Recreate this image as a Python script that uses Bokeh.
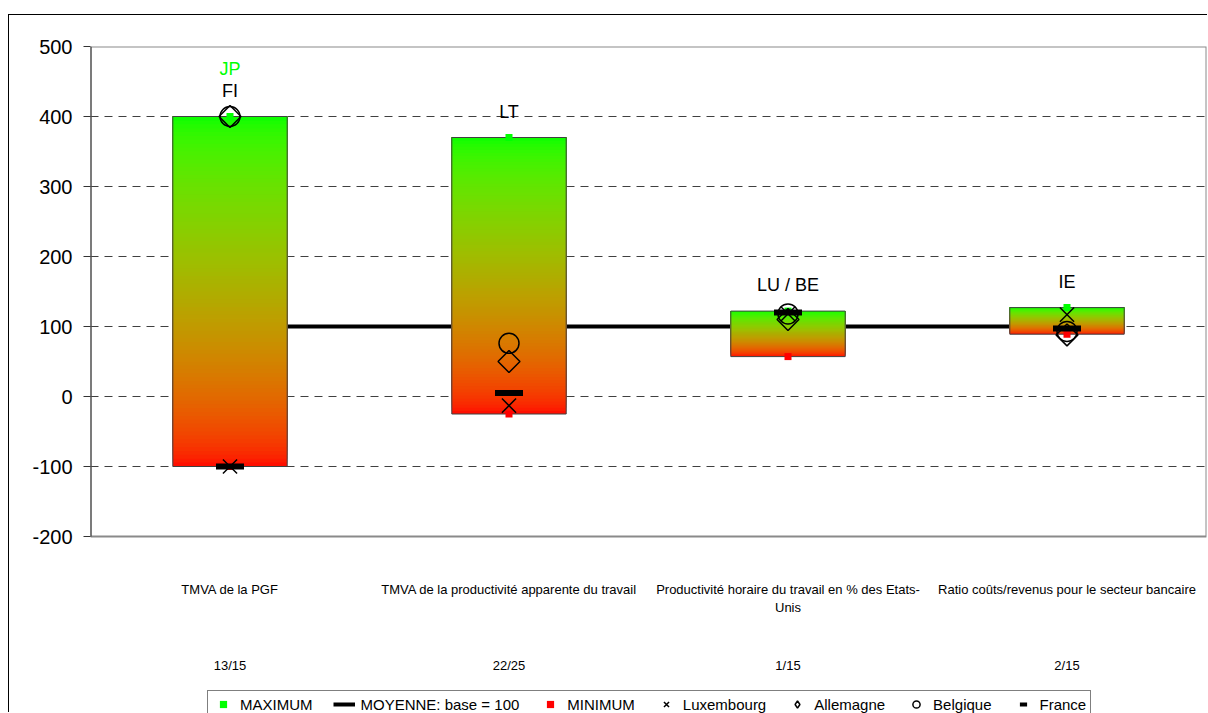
import numpy as np
from bokeh.plotting import figure
from bokeh.models import Range1d, FixedTicker, Legend, LegendItem
from bokeh.core.properties import value
from bokeh.embed import file_html
from bokeh.resources import INLINE

# ---------------- data ----------------
categories = [
    "TMVA de la PGF",
    "TMVA de la productivité apparente du travail",
    "Productivité horaire du travail en % des Etats-\nUnis",
    "Ratio coûts/revenus pour le secteur bancaire",
]
ranks = ["13/15", "22/25", "1/15", "2/15"]
maximum = [400, 370, 122, 127]
minimum = [-100, -25, 57, 89]
moyenne = [100, 100, 100, 100]
luxembourg = [-100, -13, 118, 117]
allemagne = [400, 50, 110, 88]
belgique = [400, 76, 118, 93]
france = [-100, 5, 120, 97]
top_labels = ["FI", "LT", "LU / BE", "IE"]
max_labels = ["JP", "", "", ""]
y_ticks = [-200, -100, 0, 100, 200, 300, 400, 500]
grid_ticks = [-100, 0, 100, 200, 300, 400]

FONT = "Liberation Sans"
xs = [i + 0.5 for i in range(len(categories))]
BAR_W = 0.41
Y_MIN, Y_MAX = min(y_ticks), max(y_ticks)

# layout: plot frame runs to the bottom of the canvas; the visible "plot area"
# box is -200..500, the area below it holds category labels, ranks and legend.
FIG_W, FIG_H = 1199, 698
TOP, LEFT, RIGHT = 31, 81, 2
FRAME_H = FIG_H - TOP
PX_PER_UNIT = 490 / (Y_MAX - Y_MIN)
y_bottom = Y_MAX - FRAME_H / PX_PER_UNIT

p = figure(
    width=FIG_W, height=FIG_H,
    x_range=Range1d(0, len(categories)), y_range=Range1d(y_bottom, Y_MAX),
    output_backend="svg", toolbar_location=None,
    x_axis_location=None,
    min_border_left=LEFT, min_border_right=RIGHT, min_border_top=TOP, min_border_bottom=0,
)
# range used only by legend-sample glyphs so that they fall outside the frame
p.extra_y_ranges = {"legend_only": Range1d(100000, 200000)}
p.styles = {"margin-top": "14px", "margin-left": "8px",
            "border-left": "1px solid black", "border-top": "1px solid black"}
p.background_fill_color = "white"
p.border_fill_color = "white"
p.outline_line_color = None

# y axis
p.yaxis.ticker = FixedTicker(ticks=y_ticks)
p.yaxis.major_label_overrides = {v: str(v) for v in y_ticks}
p.yaxis.major_label_text_font = FONT
p.yaxis.major_label_text_font_size = "20px"
p.yaxis.major_label_text_color = "black"
p.yaxis.major_tick_in = 0
p.yaxis.major_tick_out = 7
p.yaxis.major_tick_line_color = "#333333"
p.yaxis.minor_tick_line_color = None
p.yaxis.axis_line_color = None
p.yaxis.major_label_standoff = 11

p.xgrid.visible = False
p.ygrid.ticker = FixedTicker(ticks=grid_ticks)
p.ygrid.grid_line_color = "#404040"
p.ygrid.grid_line_dash = "8 6"
p.ygrid.grid_line_width = 1

# plot-area box and value axis line
p.quad(left=[0], right=[len(categories)], bottom=[Y_MIN], top=[Y_MAX],
       fill_color=None, line_color="#8a8a8a", line_width=2)
p.segment(x0=[0], y0=[Y_MIN], x1=[0], y1=[Y_MAX], line_color="#333333", line_width=2)

# mean line (behind bars)
r_moy = p.line(xs, moyenne, line_width=4, line_color="black")

# gradient bars (red bottom -> green top), overlapping slices to avoid seams
N = 90
EXP = 0.55
gl, gr, gb, gt, gc = [], [], [], [], []
for x, lo, hi in zip(xs, minimum, maximum):
    for k in range(N):
        t0 = k / N
        tc = (k + 0.5) / N
        g = int(round(255 * tc ** EXP))
        r = int(round(255 * (1 - tc) ** EXP))
        gl.append(x - BAR_W / 2)
        gr.append(x + BAR_W / 2)
        gb.append(lo + (hi - lo) * t0)
        gt.append(hi)
        gc.append("#%02x%02x%02x" % (r, g, 0))
p.quad(left=gl, right=gr, bottom=gb, top=gt, fill_color=gc, line_color=None)
p.quad(left=[x - BAR_W / 2 for x in xs], right=[x + BAR_W / 2 for x in xs],
       bottom=minimum, top=maximum, fill_color=None, line_color="#404040", line_width=1)

# markers
r_max = p.scatter(xs, maximum, marker="square", size=7, fill_color="#00ff00", line_color=None)
r_min = p.scatter(xs, minimum, marker="square", size=7, fill_color="#ff0000", line_color=None)
r_lux = p.scatter(xs, luxembourg, marker="x", size=20, line_color="black", line_width=1.5)
p.scatter(xs, allemagne, marker="square", angle=np.pi / 4, size=15.5,
          fill_color=None, line_color="black", line_width=1.5)
r_bel = p.scatter(xs, belgique, marker="circle", size=20, fill_color=None,
                  line_color="black", line_width=1.5)
p.scatter(xs, france, marker="dash", size=28, line_color="black", line_width=6)

# legend-sample glyphs (plotted on the off-frame range, so only the legend shows them)
r_all_leg = p.scatter(xs, allemagne, marker="diamond", fill_color=None, line_color="black",
                      line_width=1.5, y_range_name="legend_only")
r_fra_leg = p.scatter(xs, france, marker="dash", line_color="black", line_width=4,
                      y_range_name="legend_only")

# labels above bars
p.text(xs, maximum, text=top_labels, y_offset=-26, text_align="center", text_baseline="middle",
       text_font=value(FONT), text_font_size="18px", text_color="black")
p.text(xs, maximum, text=max_labels, y_offset=-48, text_align="center", text_baseline="middle",
       text_font=value(FONT), text_font_size="18px", text_color="#00ff00")

# category names and ranks under the plot area
p.text(xs, [Y_MIN] * len(xs), text=categories, y_offset=45, text_align="center",
       text_baseline="top", text_font=value(FONT), text_font_size="13px",
       text_color="black", text_line_height=1.25)
p.text(xs, [Y_MIN] * len(xs), text=ranks, y_offset=121, text_align="center",
       text_baseline="top", text_font=value(FONT), text_font_size="13px", text_color="black")

legend = Legend(
    items=[
        LegendItem(label="MAXIMUM", renderers=[r_max]),
        LegendItem(label="MOYENNE: base = 100", renderers=[r_moy]),
        LegendItem(label="MINIMUM", renderers=[r_min]),
        LegendItem(label="Luxembourg", renderers=[r_lux]),
        LegendItem(label="Allemagne", renderers=[r_all_leg]),
        LegendItem(label="Belgique", renderers=[r_bel]),
        LegendItem(label="France", renderers=[r_fra_leg]),
    ],
    orientation="horizontal", location=(117, -5), margin=0, padding=4,
    spacing=20, glyph_width=22, glyph_height=18, label_height=16, label_standoff=6,
    label_text_font=FONT, label_text_font_size="15px", label_text_color="black",
    border_line_color="black", border_line_width=1, background_fill_color="white",
    background_fill_alpha=1.0,
)
p.add_layout(legend)

open("out.html", "w").write(file_html(p, INLINE))
